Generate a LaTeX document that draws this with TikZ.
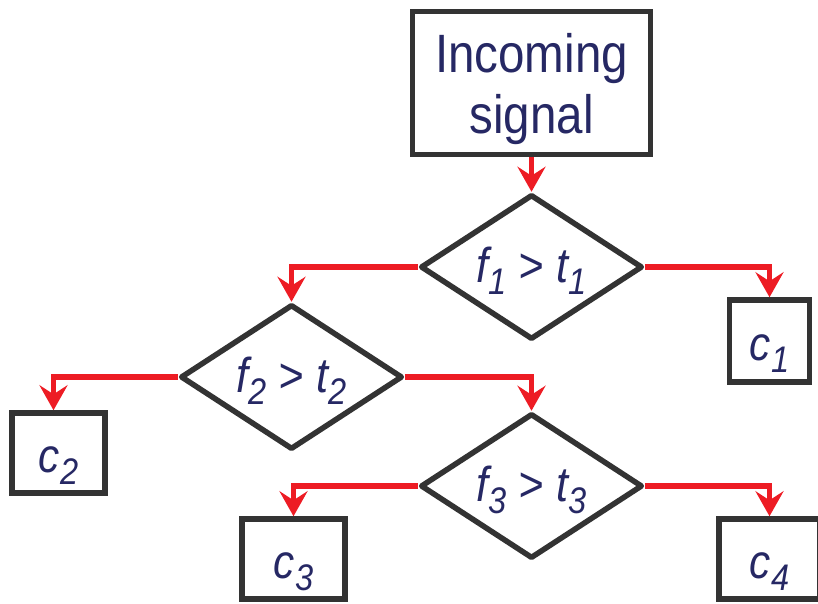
\documentclass[tikz,border=0pt]{standalone}
\usepackage{fontspec}
\newfontfamily\chartfont{Liberation Sans}[FakeStretch=0.88]
\usepackage{xcolor}
\usepackage{tikz}
\usetikzlibrary{shapes.geometric,arrows.meta,positioning}

\definecolor{inkblue}{RGB}{38,40,100}
\definecolor{edgegray}{RGB}{51,51,51}
\definecolor{flowred}{RGB}{237,28,36}

\newcommand{\lowix}[1]{\raisebox{-12pt}{\fontsize{37}{37}\selectfont #1}}

\begin{document}
\begin{tikzpicture}[
            node distance=110pt and 240pt, on grid,
            block/.style={draw=edgegray, line width=5.5pt, rectangle, inner sep=0pt, text=inkblue},
            cond/.style={draw=edgegray, line width=5.5pt, diamond, aspect=1.53, inner sep=0pt, minimum width=222pt, minimum height=145pt, line join=round, text=inkblue, font=\chartfont\itshape\fontsize{49}{49}\selectfont, text height=43.5pt, text depth=12pt},
            leaf/.style={block, minimum height=80pt, font=\chartfont\itshape\fontsize{48}{48}\selectfont, text height=50pt, text depth=12pt},
            arrow/.style={-{Stealth[length=25pt, width=28pt, inset=9pt]}, line width=5.5pt, draw=flowred}
        ]
            \useasboundingbox (0pt,-603pt) rectangle (818pt,0pt);

            \node[block, minimum width=238pt, minimum height=143pt, align=center, font=\chartfont\fontsize{54}{61}\selectfont] (signal) at (531.5pt,-83pt) {\rule{0pt}{51pt}Incoming\\signal};

            % Tests
            \node[cond, below=184pt of signal] (d1) {f\lowix{1} > t\lowix{1}};
            \node[cond, below left=of d1] (d2) {f\lowix{2} > t\lowix{2}};
            \node[cond, below right=109pt and 240pt of d2] (d3) {f\lowix{3} > t\lowix{3}};

            % Classes
            \node[leaf, minimum width=80pt, minimum height=82pt, below right=74pt and 238pt of d1] (c1) {c\lowix{1}};
            \node[leaf, minimum width=93pt, below left=76pt and 233pt of d2] (c2) {c\lowix{2}};
            \node[leaf, minimum width=103pt, below left=73pt and 238pt of d3] (c3) {c\lowix{3}};
            \node[leaf, minimum width=101pt, below right=73pt and 238pt of d3] (c4) {c\lowix{4}};

            \draw[arrow] (signal) -- (d1);
            \draw[arrow] (d1.west) -| (d2.north);
            \draw[arrow] (d1.east) -| (c1.north);
            \draw[arrow] (d2.west) -| ([xshift=-5pt]c2.north);
            \draw[arrow] (d2.east) -| (d3.north);
            \draw[arrow] (d3.west) -| (c3.north);
            \draw[arrow] (d3.east) -| (c4.north);
        \end{tikzpicture}
\end{document}
